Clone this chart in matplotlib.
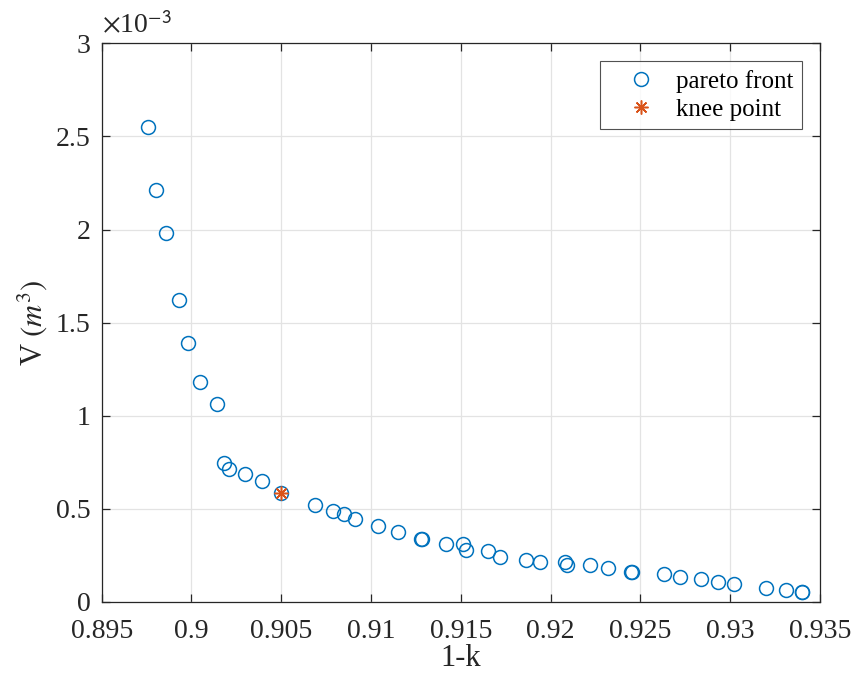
import matplotlib
matplotlib.use('Agg')
import matplotlib.pyplot as plt
from matplotlib.ticker import FuncFormatter

plt.rcParams['font.family'] = ['Liberation Serif', 'DejaVu Serif']
plt.rcParams['mathtext.fontset'] = 'stix'

# pareto front: 1-k and volume (in 1e-3 m^3)
one_minus_k = [0.8976, 0.8980, 0.8986, 0.8993, 0.8998, 0.9005, 0.9014, 0.9018,
               0.9021, 0.9030, 0.9039, 0.9050, 0.9069, 0.9079, 0.9085, 0.9091,
               0.9104, 0.9115, 0.9128, 0.91282, 0.9142, 0.9151, 0.9153, 0.9165,
               0.9172, 0.9186, 0.9194, 0.9208, 0.9209, 0.9222, 0.9232, 0.9245,
               0.92452, 0.9263, 0.9272, 0.9284, 0.9293, 0.9302, 0.9320, 0.9331,
               0.9340, 0.93402]
volume_milli = [2.551, 2.213, 1.983, 1.622, 1.389, 1.183, 1.063, 0.745,
                0.716, 0.686, 0.648, 0.584, 0.521, 0.490, 0.474, 0.447,
                0.405, 0.374, 0.337, 0.335, 0.313, 0.313, 0.276, 0.272,
                0.243, 0.227, 0.213, 0.213, 0.199, 0.197, 0.181, 0.161,
                0.159, 0.150, 0.134, 0.122, 0.107, 0.098, 0.077, 0.064,
                0.054, 0.052]

knee_x = [0.9050]
knee_v = [0.584]

fig = plt.figure(figsize=(8.51, 6.77), dpi=100)
ax = fig.add_axes([0.1195, 0.111, 0.8441, 0.825])

ax.plot(one_minus_k, volume_milli, 'o', mfc='none', mec='#0072BD',
        ms=10, mew=1.1, label='pareto front')
ax.plot(knee_x, knee_v, marker=(8, 2, 0), ls='none', color='#D95319',
        ms=10, mew=1.1, label='knee point')

ax.set_xlim(0.895, 0.935)
ax.set_ylim(0, 3)
ax.set_xticks([0.895, 0.9, 0.905, 0.91, 0.915, 0.92, 0.925, 0.93, 0.935])
ax.set_yticks([0, 0.5, 1, 1.5, 2, 2.5, 3])
fmt = FuncFormatter(lambda v, p: f'{v:g}')
ax.xaxis.set_major_formatter(fmt)
ax.yaxis.set_major_formatter(fmt)

ax.grid(True, color='#e3e3e3', lw=0.9)
ax.set_axisbelow(True)
for s in ax.spines.values():
    s.set_color('#262626')
    s.set_linewidth(0.9)
ax.tick_params(direction='in', length=6, width=0.9, colors='#262626',
               labelsize=20, top=True, right=True)
ax.tick_params(axis='x', pad=12)
ax.tick_params(axis='y', pad=8)

ax.set_xlabel('1-k', fontsize=22, color='#262626', labelpad=0)
ax.set_ylabel(r'V $(m^3)$', fontsize=22, color='#262626', labelpad=5)
ax.text(0.0, 1.008, r'$\times$10$^{\mathsf{-3}}$', transform=ax.transAxes,
        fontsize=20, color='#262626', va='bottom', ha='left')

leg = ax.legend(loc='upper right', fontsize=18, frameon=True, fancybox=False,
                edgecolor='#262626', borderaxespad=0.72, borderpad=0.35,
                handlelength=2.6, handletextpad=0.1, labelspacing=0.2)
leg.get_frame().set_linewidth(0.8)

fig.savefig('out.png', dpi=100)
